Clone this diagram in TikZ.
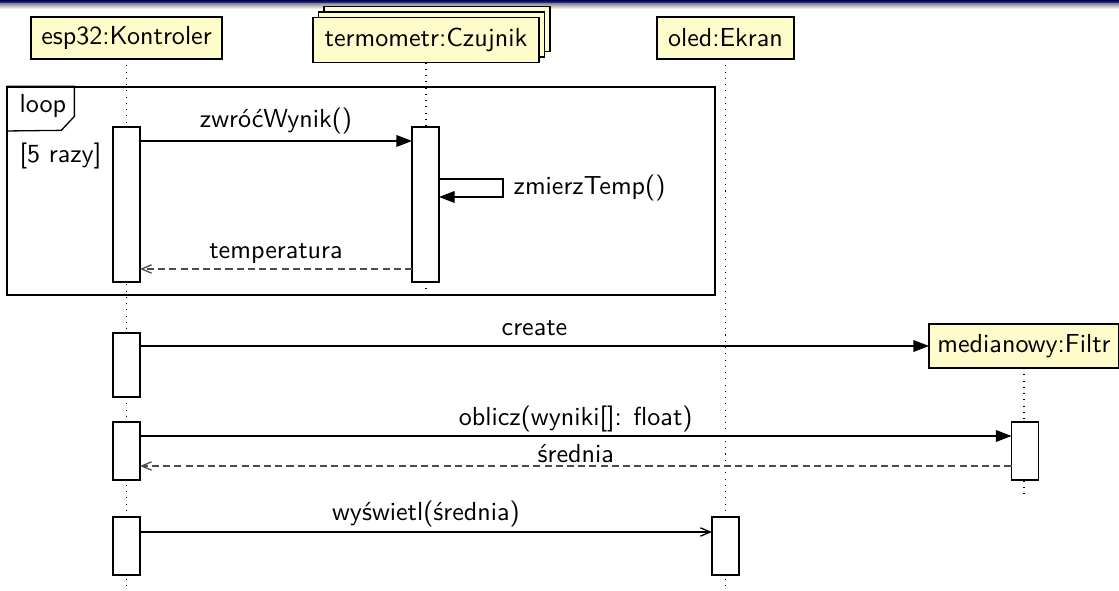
\documentclass[tikz,border=0pt]{standalone}
\usepackage{fontspec}
\usetikzlibrary{arrows.meta,shadows}
\newcommand{\pxl}{0.3833pt}

\begin{document}
\begin{tikzpicture}[x=0.3833pt,y=-0.3833pt,line width=0.5pt,font=\sffamily,
  glowa/.style={draw,fill=yellow!20,inner sep=0pt,outer sep=0pt,minimum height=42*\pxl},
  aktyw/.style={draw,fill=white,inner sep=0pt,outer sep=0pt,minimum width=27*\pxl},
  linia/.style={dotted,line width=0.4pt},
  wywol/.style={-{Triangle[length=6pt,width=4.5pt]}},
  powrot/.style={-{Straight Barb[length=3.8pt,width=3.2pt]},black!70,dash pattern=on 2.7pt off 1.6pt},
  komunikat/.style={-{Straight Barb[length=3.8pt,width=3.2pt]}},
  etyk/.style={midway,anchor=base,text=black},
  opis/.style={anchor=base west,inner sep=0pt}]
  \useasboundingbox (0,0) rectangle (1119,591);
  % pasek u gory
  \shade[top color=blue!35!black,bottom color=blue!40!gray] (0,0) rectangle (1119,4);
  \shade[top color=black!40,bottom color=white] (0,4) rectangle (1119,9);
  % obiekty
  \node[glowa,minimum width=191*\pxl] (esp) at (126.5,38) {esp32:Kontroler};
  \node[glowa,minimum width=226*\pxl,minimum height=45*\pxl,
        double copy shadow={shadow xshift=2.1pt,shadow yshift=2.1pt}] (term) at (426,40) {termometr:Czujnik};
  \node[glowa,minimum width=137*\pxl] (oled) at (725.5,38) {oled:Ekran};
  \node[glowa,minimum width=190*\pxl,minimum height=44*\pxl] (filtr) at (1024,346) {medianowy:Filtr};
  % linie zycia
  \coordinate (dol) at (0,591);
  \coordinate (dolT) at (0,300);
  \coordinate (dolF) at (0,497);
  \draw[linia] (esp.south) -- (esp.south |- dol);
  \draw[linia] (term.south) -- (term.south |- dolT);
  \draw[linia] (oled.south) -- (oled.south |- dol);
  \draw[linia] (filtr.south) -- (filtr.south |- dolF);
  % ramka petli
  \node[draw,minimum width=708*\pxl,minimum height=208*\pxl,inner sep=0pt] (petla) at (361,191) {};
  \draw (petla.north west) -- ++(68,0) -- ++(0,30) -- ++(-13,14) -- (petla.north west |- 0,131);
  \node[opis] (petlaTxt) at (19,113) {loop};
  \node[opis] (warunek) at (19,163) {[5 razy]};
  % aktywacje
  \node[aktyw,minimum height=155*\pxl] (e1) at (126.5,204.5) {};
  \node[aktyw,minimum height=155*\pxl] (t1) at (425.5,204.5) {};
  \node[aktyw,minimum height=64*\pxl] (e2) at (126.5,365) {};
  \node[aktyw,minimum height=58*\pxl] (e3) at (126.5,451) {};
  \node[aktyw,minimum height=58*\pxl] (f1) at (1025,451) {};
  \node[aktyw,minimum height=58*\pxl] (e4) at (126.5,546) {};
  \node[aktyw,minimum height=58*\pxl] (o1) at (725.5,546) {};
  % komunikaty
  \draw[wywol] (e1.east |- 0,141) -- (t1.west |- 0,141) node[etyk,yshift=5pt] {zwróćWynik()};
  \draw[wywol] (t1.east |- 0,179) -- ++(64,0) -- ++(0,18) -- (t1.east |- 0,197);
  \node[opis] (pomiar) at (513,195) {zmierzTemp()};
  \draw[powrot] (t1.west |- 0,269) -- (e1.east |- 0,269) node[etyk,yshift=4.2pt] {temperatura};
  \draw[wywol] (e2.east |- 0,346) -- (filtr.west) node[etyk,yshift=4.2pt] {create};
  \draw[wywol] (e3.east |- 0,436) -- (f1.west |- 0,436) node[etyk,yshift=4pt] {oblicz(wyniki[]: float)};
  \draw[powrot] (f1.west |- 0,466) -- (e3.east |- 0,466) node[etyk,yshift=1.5pt] {średnia};
  \draw[komunikat] (e4.east |- 0,532) -- (o1.west |- 0,532) node[etyk,yshift=4.5pt] {wyświetl(średnia)};
\end{tikzpicture}
\end{document}
